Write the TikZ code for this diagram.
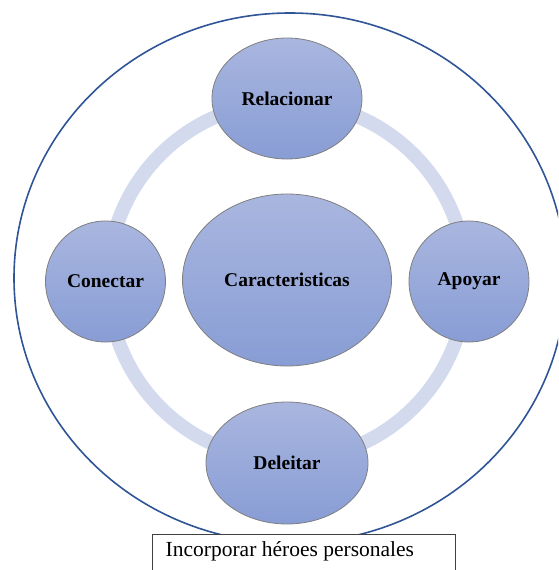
\documentclass[tikz,border=0pt]{standalone}
\usepackage{fontspec}
\setmainfont{Liberation Serif}
\usetikzlibrary{shapes.geometric}

\definecolor{frameblue}{HTML}{2F5597}
\definecolor{ringblue}{HTML}{D3DAEE}
\definecolor{nodetop}{HTML}{A9B6DF}
\definecolor{nodebot}{HTML}{889DD5}
\definecolor{nodeedge}{HTML}{7F7F7F}
\definecolor{boxedge}{HTML}{404040}

\tikzset{
  bubble/.style={ellipse, draw=nodeedge, line width=0.8pt,
    top color=nodetop, bottom color=nodebot, inner sep=0pt,
    font=\bfseries\fontsize{19.5}{21}\selectfont},
  ringline/.style={draw=ringblue, line width=14pt},
  outerline/.style={draw=frameblue, line width=1.6pt},
  notebox/.style={rectangle, draw=boxedge, line width=1.2pt, fill=white,
    anchor=north west, inner sep=0pt},
  notetext/.style={anchor=base west, inner sep=0pt,
    font=\fontsize{21.5}{24}\selectfont}
}

\begin{document}
\begin{tikzpicture}[x=1pt, y=-1pt]
  \useasboundingbox (0,0) rectangle (558,570);
  \clip (0,0) rectangle (558,570);

  % enclosing ellipse
  \draw[outerline] (290,278) ellipse[x radius=276, y radius=265];

  % central node, ring behind the outer nodes
  \coordinate (hub) at (287,281);
  \draw[ringline] (hub) circle[radius=179];

  \node[bubble, minimum width=209pt, minimum height=172pt] (car) at (287,280) {Caracteristicas};
  \node[bubble, minimum width=150pt, minimum height=121pt] (rel) at (287,98.5) {Relacionar};
  \node[bubble, minimum width=120pt, minimum height=121pt] (con) at (105.5,281.5) {Conectar};
  \node[bubble, minimum width=120pt, minimum height=121pt] (apo) at (469,281.5) {Apoyar};
  \node[bubble, minimum width=162pt, minimum height=122pt] (del) at (287,463) {Deleitar};

  % caption box at the bottom
  \node[notebox, minimum width=303pt, minimum height=60pt] (box) at (152,534) {};
  \node[notetext] (note) at (165.5,556) {Incorporar héroes personales};
\end{tikzpicture}
\end{document}
